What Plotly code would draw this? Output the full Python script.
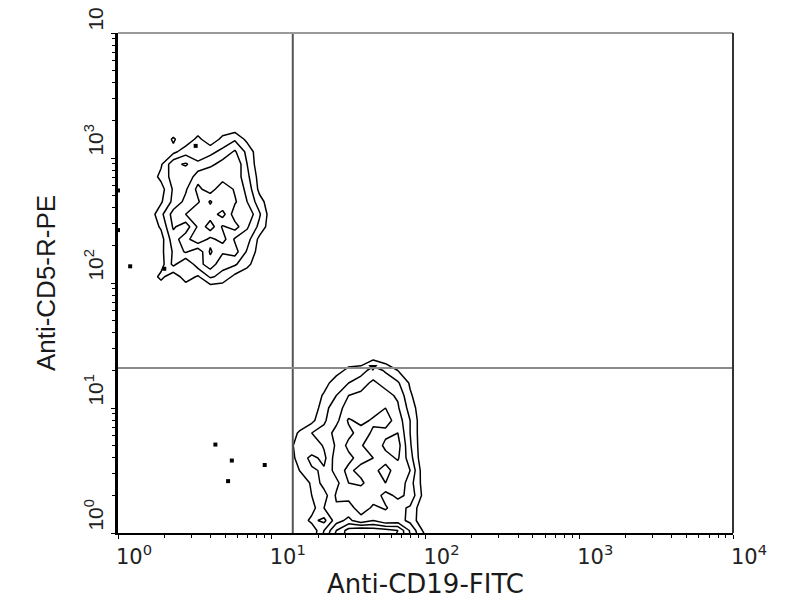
import numpy as np
import plotly.graph_objects as go

# ---------------- data ----------------
# Upper-left population (CD5+ CD19-): density grid on log10 coordinates
ul_logx = [0.20, 0.28, 0.36, 0.44, 0.52, 0.60, 0.68, 0.76, 0.84, 0.92, 1.00]
ul_logy = [1.95, 2.05, 2.15, 2.25, 2.35, 2.45, 2.55, 2.65, 2.75, 2.85, 2.95, 3.05, 3.15, 3.25]
ul_z = [
    [0, 0, 0, 0, 0, 0, 0, 0, 0, 0, 0],
    [0, 0.7, 0, 0.9, 0.4, 1.3, 1.0, 0.3, 0, 0, 0],
    [0, 0.2, 1.4, 0.5, 1.6, 2.3, 1.4, 1.3, 0.7, 0, 0],
    [0, 0.3, 1.3, 2.0, 1.4, 2.7, 2.0, 2.2, 1.1, 0.2, 0],
    [0, 0.2, 1.6, 2.3, 3.2, 2.4, 2.9, 1.8, 1.5, 0.3, 0],
    [0, 0.6, 2.0, 1.5, 2.7, 3.7, 2.5, 2.9, 2.0, 1.0, 0],
    [0, 1.0, 2.2, 2.6, 3.3, 2.9, 3.6, 2.2, 2.5, 1.3, 0],
    [0, 0.4, 1.4, 2.1, 2.5, 3.4, 2.6, 2.7, 1.9, 0.8, 0],
    [0, 0.2, 1.3, 1.8, 2.8, 2.2, 3.2, 2.5, 1.7, 0.3, 0],
    [0, 0.7, 1.5, 1.3, 2.3, 2.6, 2.2, 2.4, 1.4, 0.2, 0],
    [0, 0.4, 1.7, 2.0, 1.4, 1.7, 2.2, 2.6, 1.2, 0, 0],
    [0, 0, 0.3, 0.9, 0.6, 1.0, 1.4, 2.0, 1.0, 0, 0],
    [0, 0, 0.6, 0, 0.7, 0, 0.7, 1.1, 0.3, 0, 0],
    [0, 0, 0, 0, 0, 0, 0, 0, 0, 0, 0],
]

# Lower-right population (CD19+ CD5-)
lr_logx = [1.10, 1.18, 1.26, 1.34, 1.42, 1.50, 1.58, 1.66, 1.74, 1.82, 1.90, 1.98, 2.06]
lr_logy = [-0.05, 0.02, 0.10, 0.20, 0.30, 0.40, 0.50, 0.60, 0.70, 0.80, 0.90, 1.00, 1.10, 1.20, 1.30, 1.40]
lr_z = [
    [0, 0, 0, 1.5, 3.0, 3.5, 3.8, 3.6, 3.5, 3.2, 2.0, 0.8, 0],
    [0, 0, 0, 1.2, 2.6, 3.6, 3.9, 3.7, 3.6, 3.3, 1.8, 0.5, 0],
    [0, 0, 0.7, 0.3, 1.6, 2.1, 1.4, 1.9, 1.3, 1.5, 1.0, 0, 0],
    [0, 0, 0.2, 1.2, 1.8, 1.4, 2.5, 1.7, 2.0, 1.4, 1.1, 0, 0],
    [0, 0, 0.5, 0.9, 2.0, 2.3, 1.9, 2.4, 1.6, 2.1, 1.7, 0.4, 0],
    [0, 0, 0.6, 1.5, 1.7, 2.6, 2.8, 2.0, 2.6, 2.5, 1.5, 0.3, 0],
    [0, 0.5, 1.1, 1.3, 2.2, 2.8, 2.3, 2.4, 2.9, 2.2, 1.9, 0.2, 0],
    [0, 0.8, 1.4, 1.0, 2.3, 2.4, 2.9, 2.6, 2.3, 2.7, 1.5, 0, 0],
    [0, 1.0, 0.6, 1.3, 2.0, 2.8, 2.7, 2.0, 2.8, 2.9, 1.3, 0, 0],
    [0, 0.6, 1.2, 1.4, 2.2, 2.4, 2.9, 2.5, 2.4, 2.6, 1.2, 0, 0],
    [0, 0, 0.3, 1.1, 1.7, 2.7, 2.4, 2.7, 2.9, 2.3, 1.2, 0, 0],
    [0, 0, 0, 0.9, 1.7, 2.1, 2.6, 2.3, 2.6, 2.0, 0.9, 0, 0],
    [0, 0, 0, 0.6, 1.2, 1.9, 2.0, 2.5, 2.1, 1.8, 0.6, 0, 0],
    [0, 0, 0, 0.2, 0.9, 1.2, 1.7, 2.0, 1.7, 1.3, 0.4, 0, 0],
    [0, 0, 0, 0, 0.2, 0.7, 0.8, 1.6, 1.1, 0.5, 0, 0, 0],
    [0, 0, 0, 0, 0, 0, 0, 0.3, 0, 0, 0, 0, 0],
]

# Isolated events (data units)
event_x = [4.3, 5.5, 9.0, 5.2, 2.0, 3.2, 1.2, 1.0, 1.0]
event_y = [5.1, 3.8, 3.5, 2.6, 130, 1250, 136, 550, 265]

# Gate positions
gate_x = 13.7
gate_y = 20.9

tick_vals = [1, 10, 100, 1000, 10000]
tick_text = ["10<sup>0</sup>", "10<sup>1</sup>", "10<sup>2</sup>", "10<sup>3</sup>", "10<sup>4</sup>"]

x_title = "Anti-CD19-FITC"
y_title = "Anti-CD5-R-PE"

# ---------------- figure ----------------
FONT = "Liberation Sans, Arial, sans-serif"
WIDE = "DejaVu Sans, Verdana, sans-serif"
black_scale = [[0, "black"], [1, "black"]]

fig = go.Figure()

for lx, ly, z in [(ul_logx, ul_logy, ul_z), (lr_logx, lr_logy, lr_z)]:
    fig.add_trace(go.Contour(
        x=[10 ** v for v in lx], y=[10 ** v for v in ly], z=z,
        contours=dict(coloring="lines", start=0.5, end=3.4, size=0.7),
        line=dict(width=1.5, smoothing=0, dash="solid"),
        colorscale=black_scale, showscale=False, hoverinfo="skip",
    ))

fig.add_trace(go.Scatter(
    x=event_x, y=event_y, mode="markers",
    marker=dict(color="black", size=4, symbol="square"),
    cliponaxis=False, showlegend=False,
))

# small filled triangle touching the horizontal gate
fig.add_trace(go.Scatter(
    x=[45.5], y=[21.3], mode="markers",
    marker=dict(color="black", size=8, symbol="triangle-down"),
    showlegend=False,
))

# quadrant gate lines
fig.add_shape(type="line", xref="x", yref="paper", x0=gate_x, x1=gate_x, y0=0, y1=1,
              line=dict(color="#555555", width=2))
fig.add_shape(type="line", xref="paper", yref="y", x0=0, x1=1, y0=gate_y, y1=gate_y,
              line=dict(color="#8a8a8a", width=2))
# top and right frame
fig.add_shape(type="line", xref="paper", yref="paper", x0=0, x1=1, y0=1, y1=1,
              line=dict(color="#9a9a9a", width=2))
fig.add_shape(type="line", xref="paper", yref="paper", x0=1, x1=1, y0=0, y1=1,
              line=dict(color="#333333", width=2))

minor_vals = [m * 10 ** k for k in range(4) for m in range(2, 10)]

fig.update_layout(
    width=800, height=600,
    margin=dict(l=110, r=75, t=25, b=75),
    paper_bgcolor="white", plot_bgcolor="white",
    font=dict(family=FONT, color="black"),
    showlegend=False,
    xaxis=dict(
        type="log", range=[0, 4], showgrid=False, zeroline=False, automargin=False,
        showline=True, linecolor="black", linewidth=2,
        tickmode="array", tickvals=tick_vals, ticktext=tick_text,
        ticks="outside", ticklen=4, tickcolor="black", ticklabeloverflow="allow",
        tickfont=dict(family=WIDE, size=21, color="#222"), ticklabelshift=16,
        minor=dict(tickmode="array", tickvals=minor_vals, ticks="outside", ticklen=3, tickcolor="black"),
        title=dict(text=x_title, font=dict(family=WIDE, size=26, color="#1a1a1a"), standoff=6),
    ),
    yaxis=dict(
        type="log", range=[0, 4], showgrid=False, zeroline=False, automargin=False,
        showline=True, linecolor="black", linewidth=3,
        tickmode="array", tickvals=tick_vals, ticktext=tick_text,
        ticks="outside", ticklen=4, tickcolor="black", tickangle=-90, ticklabeloverflow="allow",
        tickfont=dict(size=21, color="#222"), ticklabelshift=-15,
        minor=dict(tickmode="array", tickvals=minor_vals, ticks="outside", ticklen=3, tickcolor="black"),
        title=dict(text=y_title, font=dict(size=26, color="#1a1a1a"), standoff=18),
    ),
)

fig.write_html("out.html")
